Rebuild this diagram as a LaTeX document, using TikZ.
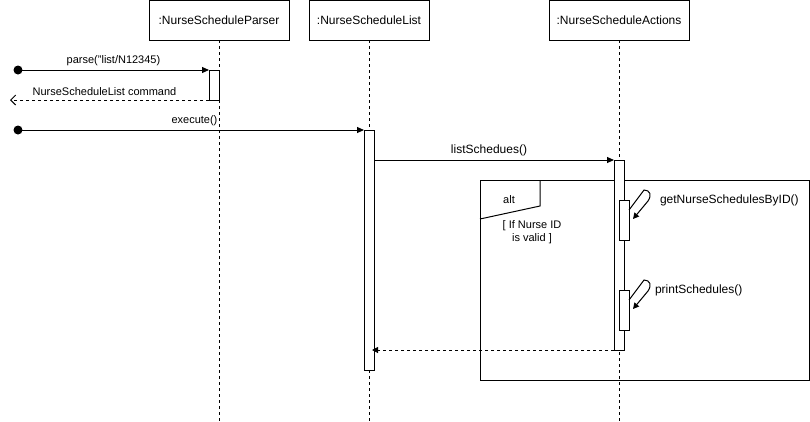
\documentclass[tikz,border=0pt]{standalone}
\usepackage{fontspec}
\setmainfont{Liberation Sans}
\usetikzlibrary{arrows.meta}
\begin{document}
\begin{tikzpicture}[x=1pt,y=-1pt,
  every node/.style={inner sep=0pt,outer sep=0pt},
  objbox/.style={draw,line width=1pt,fill=white,minimum height=40pt,font=\fontsize{12}{14}\selectfont},
  life/.style={line width=0.8pt,dash pattern=on 3pt off 3pt},
  actbox/.style={draw,line width=1pt,fill=white,minimum width=10pt},
  msg/.style={line width=1pt,-{Triangle[length=7pt,width=6pt]}},
  ret/.style={line width=1pt,dash pattern=on 3pt off 3pt},
  lbl/.style={font=\fontsize{11}{13}\selectfont},
  biglbl/.style={font=\fontsize{12}{14}\selectfont},
  selfarrow/.style={line width=1pt,-{Triangle[length=6pt,width=6pt]}},
  dot/.style={circle,fill=black,minimum size=9pt}
]
\useasboundingbox (0,0) rectangle (810,421);
% objects
\node[objbox,minimum width=140pt] (parser) at (219,20) {:NurseScheduleParser};
\node[objbox,minimum width=120pt] (list) at (369,20) {:NurseScheduleList};
\node[objbox,minimum width=140pt] (actions) at (619,20) {:NurseScheduleActions};
% lifeline ends
\coordinate (pend) at (219,421);
\coordinate (lend) at (369,421);
\coordinate (aend) at (619,421);
\draw[life] (parser.south) -- (pend);
\draw[life] (list.south) -- (lend);
\draw[life] (actions.south) -- (aend);
% alt frame
\draw[line width=1pt] (480,180) rectangle (809,380);
\draw[line width=1pt] (540,180) -- (540,206) -- (480,219);
\node[lbl] (alt) at (509,200) {alt};
\node[lbl,align=center] (guard) at (532,232) {[ If Nurse ID\\is valid ]};
% activations
\node[actbox,minimum height=30pt] (pact) at (214,85) {};
\node[actbox,minimum height=240pt] (lact) at (369,250) {};
\node[actbox,minimum height=190pt] (aact) at (619,255) {};
\node[actbox,minimum height=40pt] (s1) at (624,220) {};
\node[actbox,minimum height=40pt] (s2) at (624,310) {};
% start dots
\node[dot] (d1) at (18,70) {};
\node[dot] (d2) at (18,130) {};
\coordinate (rend) at (10,100);
% messages
\draw[msg] (d1.center) -- node[lbl,above=4pt] {parse("list/N12345)} (pact.north west);
\draw[ret,-{Straight Barb[length=5pt,width=10pt]}] (pact.south west) -- node[lbl,above=4pt,xshift=-5pt] {NurseScheduleList command} (rend);
\draw[msg] (d2.center) -- node[lbl,above=4pt,pos=0.51] {execute()} (lact.north west);
\draw[msg] (lact.east |- aact.north west) -- node[biglbl,above=4pt,xshift=-5pt] {listSchedues()} (aact.north west);
\draw[ret,-{Triangle[length=6pt,width=6pt]}] (aact.south west) -- ([xshift=-2pt]aact.south west -| lact.east);
% self calls
\coordinate (t1) at (633,219);
\coordinate (t2) at (633,309);
\draw[selfarrow] ([yshift=-10pt]s1.north east) -- (644,190) .. controls (650,190) and (652,195) .. (648,201) -- (t1);
\node[biglbl,anchor=west] (l1) at (660,200) {getNurseSchedulesByID()};
\draw[selfarrow] ([yshift=-10pt]s2.north east) -- (644,280) .. controls (650,280) and (652,285) .. (648,291) -- (t2);
\node[biglbl,anchor=west] (l2) at (655,290) {printSchedules()};
\end{tikzpicture}
\end{document}
